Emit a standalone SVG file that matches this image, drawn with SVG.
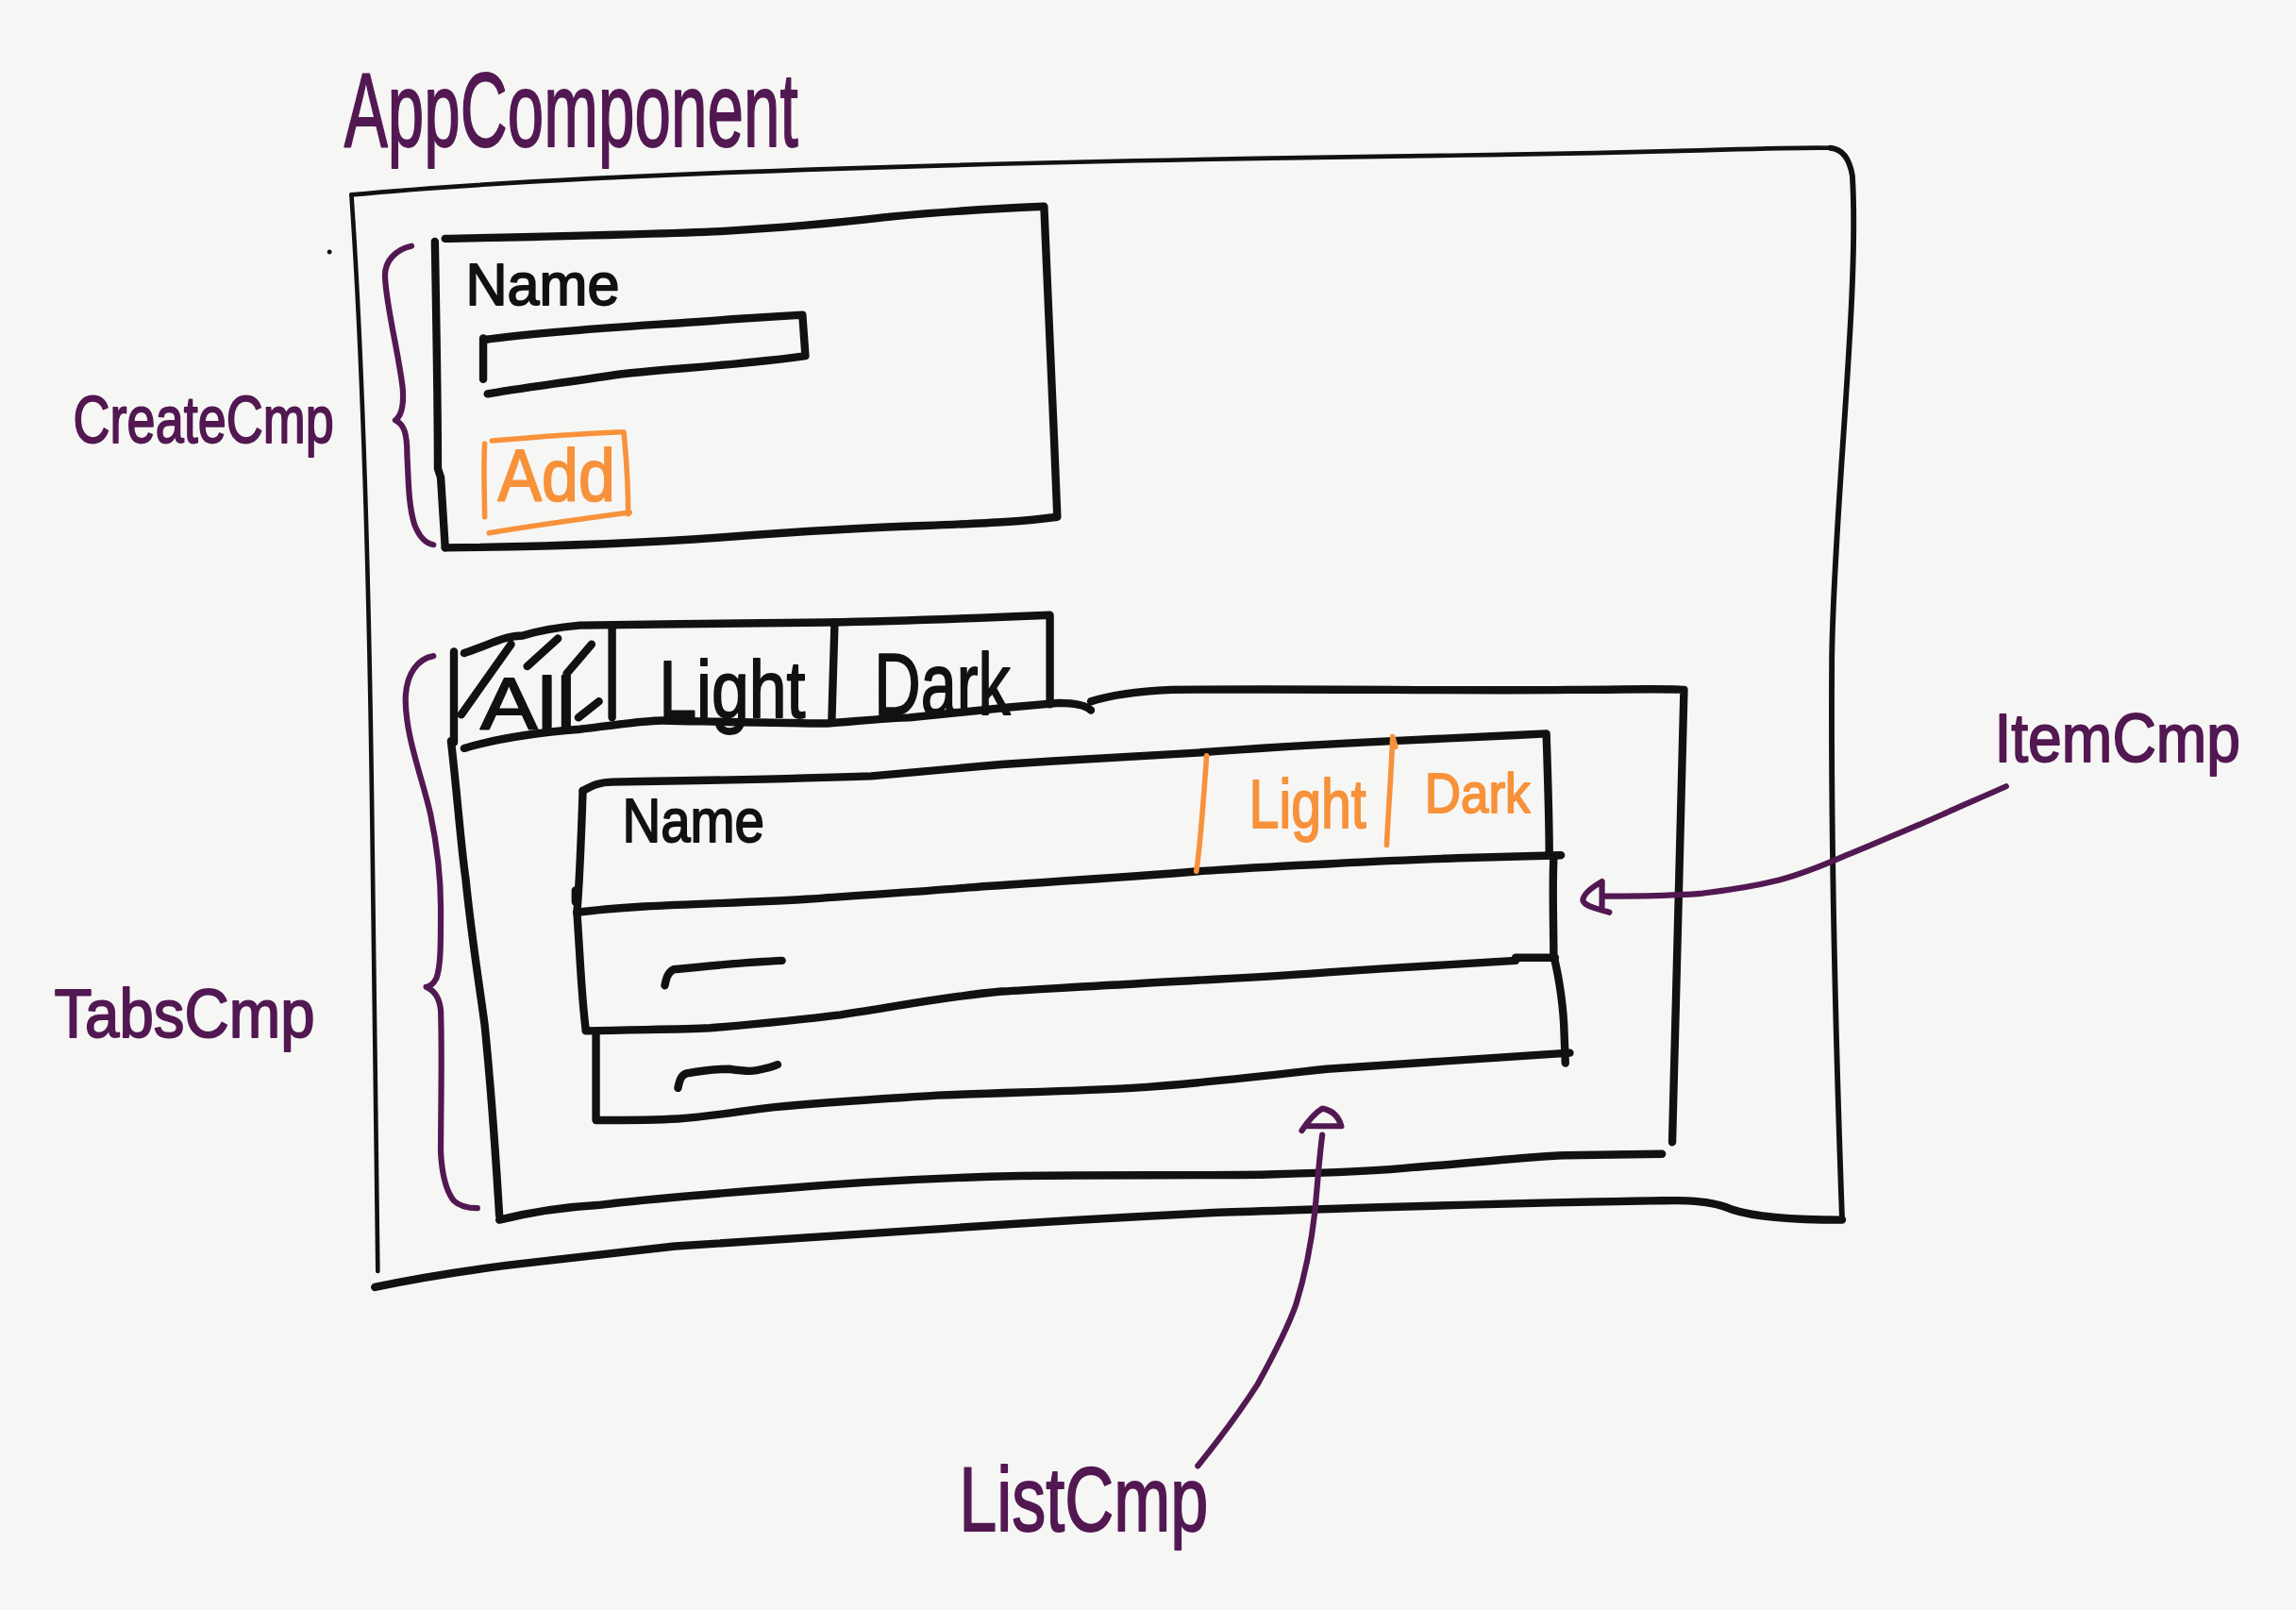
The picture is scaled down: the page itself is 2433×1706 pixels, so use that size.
<svg xmlns="http://www.w3.org/2000/svg" width="2433" height="1706" viewBox="0 0 2433 1706">
<defs>
<style>
.k{fill:none;stroke:#111;stroke-linecap:round;stroke-linejoin:round}
.thin{stroke-width:3}
.mid{stroke-width:3.8}
.thick{stroke-width:5.4}
.p{fill:none;stroke:#521852;stroke-width:4;stroke-linecap:round;stroke-linejoin:round}
.o{fill:none;stroke:#f7923b;stroke-width:3.6;stroke-linecap:round;stroke-linejoin:round}
.t{font-family:"Liberation Sans","DejaVu Sans",sans-serif;stroke-width:1.2;stroke-linejoin:round}
.tp{fill:#521852;stroke:#521852}
.tk{fill:#111;stroke:#111}
.to{fill:#f7923b;stroke:#f7923b}
</style>
</defs>
<rect width="2433" height="1706" fill="#f6f6f4"/>
<g transform="scale(1.5517)">
<g id="node-app">
<text class="t tp" x="235" y="100" font-size="72" textLength="310" lengthAdjust="spacingAndGlyphs">AppComponent</text>
<path class="k thin" d="M240,133 C400,118 700,110 1000,106 C1150,104 1220,100 1250,101"/>
<path class="k mid" d="M1250,101 Q1262,102 1265,120 C1270,200 1252,350 1251,450 C1250,600 1255,750 1258,833"/>
<path class="k thick" d="M1258,833 C1220,833 1195,830 1183,826 C1165,818 1140,820 1128,820 C1000,822 900,826 832,828 C750,832 700,835 630,840 C550,845 500,848 461,851 C400,858 380,860 347,864 C300,870 270,876 256,879"/>
<path class="k thin" d="M240,133 C248,250 252,400 254,550 C256,700 257,800 258,868"/>
<circle cx="225" cy="172" r="1.6" fill="#111"/>
</g>
<g id="node-create">
<path class="k thick" d="M304,163 C400,161 450,160 492,158 C560,154 590,150 608,148 C650,144 690,142 713,141 C716,200 719,280 722,353 C700,356 680,357 631,359 C600,360 560,362 492,367 C450,370 400,373 304,374"/>
<path class="k thick" d="M297,165 C298,220 299,280 299,320 L301,326 C302,340 303,360 304,374"/>
<text class="t tk" x="318" y="208" font-size="40" textLength="105" lengthAdjust="spacingAndGlyphs">Name</text>
<path class="k thick" d="M331,232 C380,225 450,222 500,218 L548,215 L550,243 C500,250 450,252 420,256 C380,262 350,266 333,269"/>
<path class="k thick" d="M330,231 L330,259"/>
<path class="o" d="M336,301 C370,298 400,296 424,295 M331,303 C330,320 331,340 331,353 M426,295 C428,315 429,335 429,351 M334,364 C370,358 400,354 430,350"/>
<text class="t to" x="340" y="342" font-size="50" textLength="80" lengthAdjust="spacingAndGlyphs">Add</text>
</g>
<g id="label-create">
<path class="p" d="M281,168 C271,170 262,178 263,190 C264,210 272,240 275,265 C276,278 274,284 270,287 C276,290 278,296 278,310 C279,330 279,345 283,358 C286,366 290,371 296,372"/>
<text class="t tp" x="50" y="302" font-size="45" textLength="178" lengthAdjust="spacingAndGlyphs">CreateCmp</text>
</g>
<g id="node-tabs">
<path class="k thick" d="M310,445 L310,507"/>
<path class="k thick" d="M317,446 C335,440 345,434 357,434 C370,430 385,428 396,427 C450,426 520,426 565,425 C620,424 670,422 717,420 L717,481"/>
<path class="k thick" d="M418,428 L418,490 M570,425 L568,492"/>
<path class="k thick" d="M317,511 C340,504 370,500 396,498 C420,495 440,492 452,492 C500,493 540,494 565,494 C590,492 610,490 621,490 C650,487 670,485 689,483 L723,480 C735,480 742,482 745,485"/>
<path class="k thick" d="M745,479 C760,474 780,472 800,471 C900,470 1000,472 1072,471 C1110,471 1130,470 1150,471 C1148,540 1145,650 1142,780"/>
<path class="k thick" d="M341,833 C370,826 390,824 408,823 C450,818 490,815 529,812 C600,806 650,804 697,803 C760,802 820,803 866,802 C910,801 940,800 967,797 C1010,794 1040,790 1068,789 L1135,788"/>
<path class="k thick" d="M308,506 C312,540 315,580 318,600 C322,640 327,670 331,700 C335,740 338,780 341,830"/>
<text class="t tk" x="328" y="498" font-size="50" textLength="65" lengthAdjust="spacingAndGlyphs">All</text>
<path class="k thick" d="M315,488 L349,440 M360,455 L381,436 M387,460 L404,440 M395,490 L409,479"/>
<text class="t tk" x="450" y="490" font-size="55" textLength="100" lengthAdjust="spacingAndGlyphs">Light</text>
<text class="t tk" x="597" y="488" font-size="60" textLength="93" lengthAdjust="spacingAndGlyphs">Dark</text>
</g>
<g id="label-tabs">
<path class="p" d="M296,448 C285,450 278,460 277,475 C276,500 288,530 294,556 C299,580 301,600 301,620 C301,645 301,660 298,668 C296,672 293,674 291,674 C296,676 300,680 301,690 C302,720 301,760 301,787 C302,805 305,814 310,820 C314,824 320,825 326,825"/>
<text class="t tp" x="37" y="708" font-size="46" textLength="178" lengthAdjust="spacingAndGlyphs">TabsCmp</text>
</g>
<g id="node-list">
<path class="k thick" d="M394,623 C396,650 397,680 400,703"/>
<path class="k thick" d="M400,704 C440,703 465,703 485,702 C520,699 550,696 574,693 C620,686 650,680 684,677 C720,675 750,673 773,672 C820,669 870,667 906,664 C950,661 1000,658 1035,656 M1035,654 L1062,654"/>
<path class="k thick" d="M407,707 L407,765 C430,765 445,765 463,764 C490,762 510,758 529,756 C570,752 610,750 640,748 C690,746 740,745 773,743 C820,740 870,734 906,730 C970,726 1030,722 1072,719"/>
<path class="k thick" d="M1061,586 C1060,610 1061,630 1061,653 C1063,660 1067,680 1068,700 L1069,726"/>
<path class="k thick" d="M454,673 C455,668 456,664 460,662 C480,660 510,657 534,656"/>
<path class="k thick" d="M463,743 C464,738 465,734 469,733 C480,731 490,730 498,730 C505,731 512,732 516,731 C522,730 527,729 531,727"/>
</g>
<g id="node-item">
<path class="k thick" d="M398,540 C405,536 410,534 418,534 C480,533 540,532 595,530 C630,527 660,524 684,522 C730,519 780,516 818,514 C870,510 910,508 951,506 C990,504 1015,503 1035,502 L1056,501 C1057,530 1058,560 1058,584"/>
<path class="k thick" d="M394,623 C410,621 425,620 440,619 C480,617 520,616 551,614 C590,611 630,609 662,606 C720,602 770,599 818,595 C850,593 880,591 906,590 C940,588 970,587 995,586 L1066,584"/>
<path class="k thick" d="M398,540 C397,570 396,600 394,623 M393,608 L393,616"/>
<text class="t tk" x="425" y="575" font-size="42" textLength="97" lengthAdjust="spacingAndGlyphs">Name</text>
<path class="o" d="M824,516 C822,545 820,575 817,595 M951,503 L953,510 M951,504 C950,530 948,555 947,577"/>
<text class="t to" x="853" y="565" font-size="46" textLength="80" lengthAdjust="spacingAndGlyphs">Light</text>
<text class="t to" x="973" y="555" font-size="38" textLength="72" lengthAdjust="spacingAndGlyphs">Dark</text>
</g>
<g id="label-item">
<text class="t tp" x="1362" y="520" font-size="46" textLength="168" lengthAdjust="spacingAndGlyphs">ItemCmp</text>
</g>
<g id="label-list">
<text class="t tp" x="655" y="1045" font-size="62" textLength="170" lengthAdjust="spacingAndGlyphs">ListCmp</text>
</g>
<g id="connectors">
<path class="p" d="M1370,537 C1350,546 1335,552 1327,556 C1300,568 1280,576 1261,584 C1245,591 1230,597 1215,601 C1195,606 1180,608 1163,610 C1140,612 1120,612 1095,612"/>
<path class="p" d="M1094,602 C1087,606 1081,611 1081,615 C1082,619 1092,621 1099,623 M1094,603 L1094,619"/>
<path class="p" d="M818,1001 C835,980 848,962 859,945 C870,925 880,905 885,891 C893,865 896,845 898,827 C900,805 901,790 903,775"/>
<path class="p" d="M889,772 C893,766 898,760 903,757 C909,758 914,762 916,769 L893,769"/>
</g>
</g>
</svg>
